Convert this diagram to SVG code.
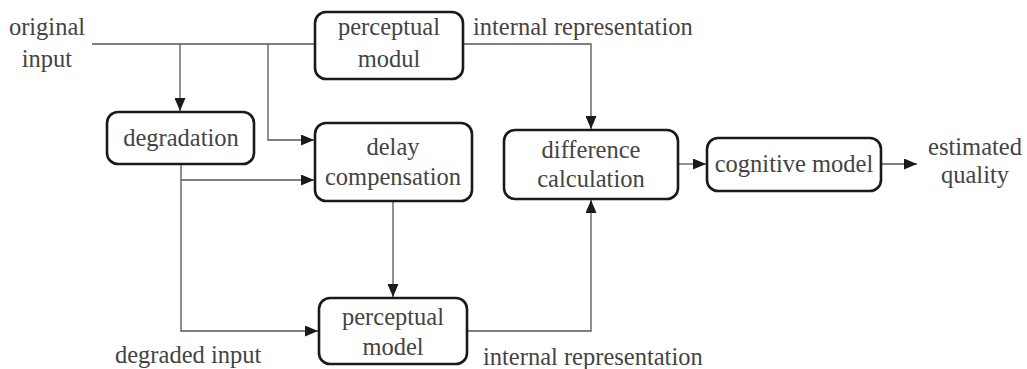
<svg xmlns="http://www.w3.org/2000/svg" width="1027" height="369" viewBox="0 0 1027 369">
<defs>
<style>
text{font-family:'Liberation Serif','Times New Roman',Times,'DejaVu Serif',serif;font-size:24.5px;fill:#444;}
.box{fill:#fff;stroke:#1a1a1a;stroke-width:2.6;}
.c{fill:none;stroke:#555;stroke-width:1.3;}
.mid{text-anchor:middle;}
</style>
<marker id="ah" markerUnits="userSpaceOnUse" markerWidth="13" markerHeight="11" viewBox="0 0 13 11" refX="13" refY="5.5" orient="auto">
<path d="M0,0 L13,5.5 L0,11 z" fill="#1a1a1a"/>
</marker>
</defs>
<rect width="1027" height="369" fill="#fff"/>
<g id="connectors">
<path class="c" d="M92,44 H315"/>
<path class="c" d="M180,44 V111" marker-end="url(#ah)"/>
<path class="c" d="M268,44 V140 H314" marker-end="url(#ah)"/>
<path class="c" d="M181,164 V331 H318" marker-end="url(#ah)"/>
<path class="c" d="M181,180 H314" marker-end="url(#ah)"/>
<path class="c" d="M463,44 H591 V129" marker-end="url(#ah)"/>
<path class="c" d="M393,201 V297" marker-end="url(#ah)"/>
<path class="c" d="M467,331 H591 V200" marker-end="url(#ah)"/>
<path class="c" d="M678,164 H706" marker-end="url(#ah)"/>
<path class="c" d="M881,164 H917" marker-end="url(#ah)"/>
</g>
<g id="original-input" font-family="Liberation Serif, serif">
<text class="mid" x="47" y="35">original</text>
<text class="mid" x="47" y="67">input</text>
</g>
<g id="perceptual-modul">
<rect class="box" x="315" y="12" width="148" height="67" rx="11"/>
<text class="mid" x="389" y="35">perceptual</text>
<text class="mid" x="389" y="67">modul</text>
</g>
<g id="label-ir-top"><text x="473" y="35">internal representation</text></g>
<g id="degradation">
<rect class="box" x="107" y="112" width="147" height="52" rx="11"/>
<text class="mid" x="181" y="146">degradation</text>
</g>
<g id="delay-compensation">
<rect class="box" x="315" y="123" width="157" height="78" rx="11"/>
<text class="mid" x="393" y="155">delay</text>
<text class="mid" x="393" y="185">compensation</text>
</g>
<g id="difference-calculation">
<rect class="box" x="504" y="130" width="174" height="69" rx="11"/>
<text class="mid" x="591" y="158">difference</text>
<text class="mid" x="591" y="187">calculation</text>
</g>
<g id="cognitive-model">
<rect class="box" x="707" y="138" width="174" height="53" rx="11"/>
<text class="mid" x="794" y="172">cognitive model</text>
</g>
<g id="estimated-quality">
<text class="mid" x="975" y="155">estimated</text>
<text class="mid" x="975" y="183">quality</text>
</g>
<g id="perceptual-model">
<rect class="box" x="319" y="298" width="148" height="66" rx="11"/>
<text class="mid" x="393" y="325">perceptual</text>
<text class="mid" x="393" y="355">model</text>
</g>
<g id="label-degraded"><text x="115" y="363">degraded input</text></g>
<g id="label-ir-bottom"><text x="483" y="365">internal representation</text></g>
</svg>
